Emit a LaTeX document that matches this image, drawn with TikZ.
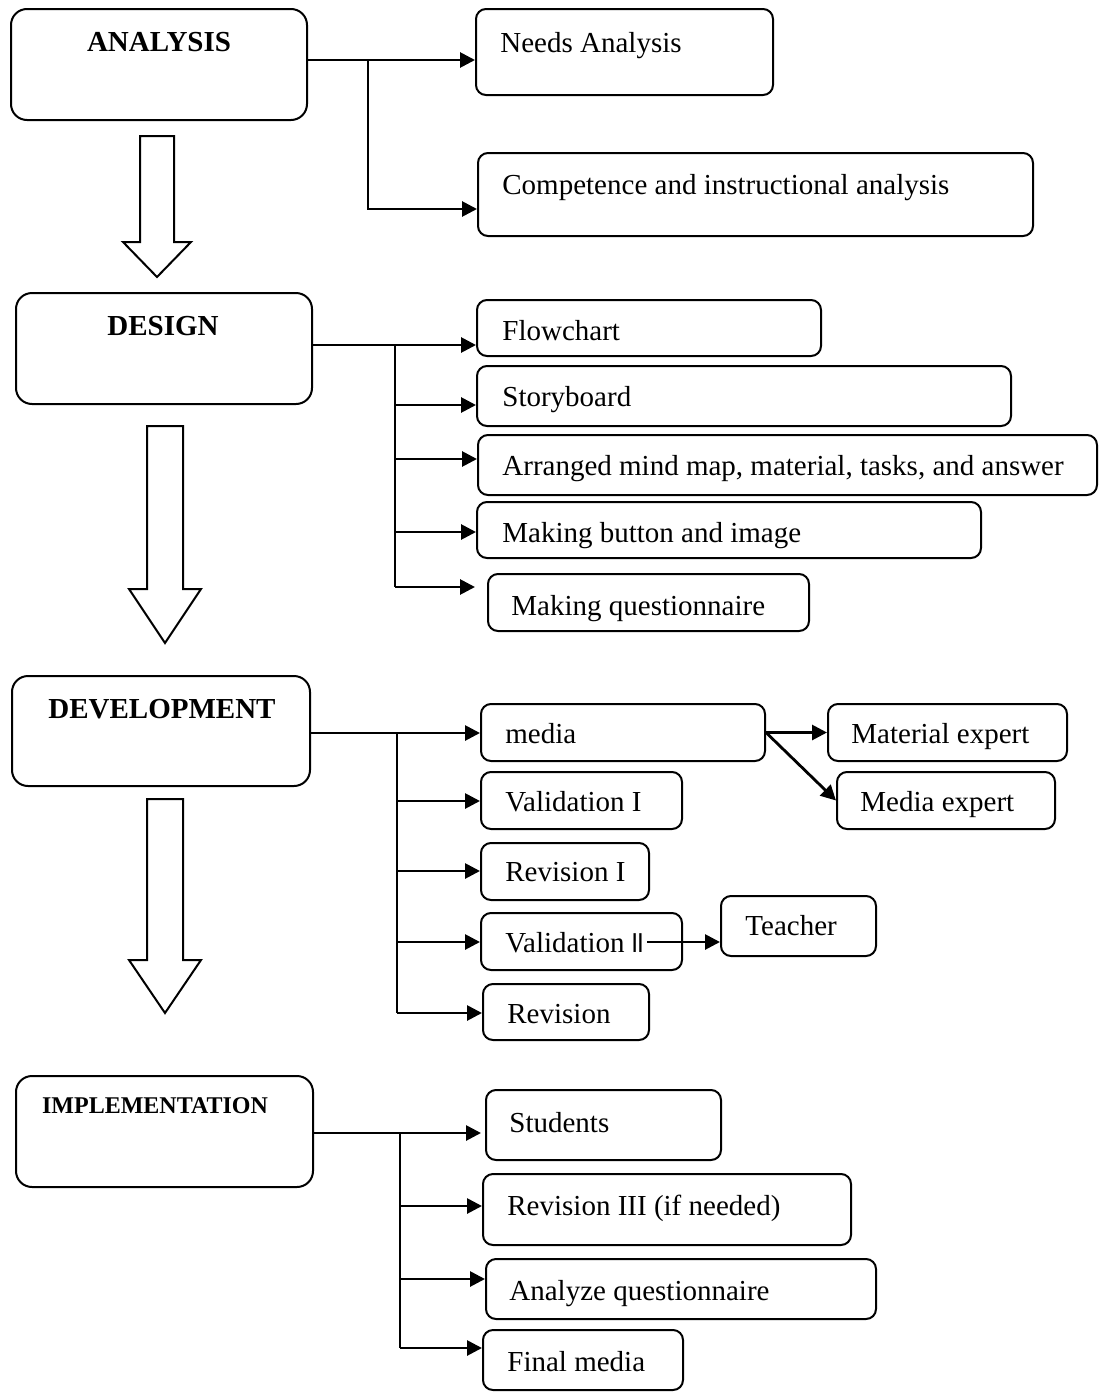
\documentclass[tikz,border=0pt]{standalone}
\usepackage{fontspec}
\setmainfont{Liberation Serif}
\newfontfamily\romsans{Liberation Sans}
\usetikzlibrary{arrows.meta,fit}
\begin{document}
\begin{tikzpicture}[x=0.5pt,y=-0.5pt,
  box/.style={draw, line width=1pt, rounded corners=5pt, inner sep=0pt},
  bigbox/.style={box, rounded corners=8pt},
  txt/.style={inner sep=0pt, anchor=base west, yshift=-5pt, font=\fontsize{14.5}{17}\selectfont},
  head/.style={inner sep=0pt, font=\fontsize{14.5}{17}\selectfont\bfseries},
  smallhead/.style={inner sep=0pt, font=\fontsize{12}{14}\selectfont\bfseries},
  link/.style={line width=1.4pt},
  arr/.style={link, -{Triangle[length=7.5pt,width=7.5pt]}},
  blockarrow/.style={draw, line width=1pt, fill=white, line join=miter}]
\useasboundingbox[fill=white] (0,0) rectangle (1098,1392);

% ---------- ANALYSIS ----------
\node[bigbox, fit={(11,9) (307,120)}] (an) {};
\node[head] (ant) at (159,42) {ANALYSIS};
\node[box, fit={(476,9) (773,95)}] (na) {};
\node[txt] (nat) at (500,42) {Needs Analysis};
\node[box, fit={(478,153) (1033,236)}] (ca) {};
\node[txt] (cat) at (502,184) {Competence and instructional analysis};
\coordinate (ja) at (368,60);
\coordinate (jb) at (368,209);
\draw[link] (an.east|-ja) -- (ja);
\draw[arr] (ja) -- (na.west|-ja);
\draw[arr] (ja) -- (jb) -- (ca.west|-jb);

\path[blockarrow] (140,136) -- (174,136) -- (174,242) -- (191,242) -- (157,277) -- (123,242) -- (140,242) -- cycle;

% ---------- DESIGN ----------
\node[bigbox, fit={(16,293) (312,404)}] (de) {};
\node[head] (det) at (163,326) {DESIGN};
\node[box, fit={(477,300) (821,356)}] (fc) {};
\node[txt] (fct) at (502,330) {Flowchart};
\node[box, fit={(477,366) (1011,426)}] (sb) {};
\node[txt] (sbt) at (502,396) {Storyboard};
\node[box, fit={(478,435) (1097,495)}] (am) {};
\node[txt] (amt) at (502,465) {Arranged mind map, material, tasks, and answer};
\node[box, fit={(477,502) (981,558)}] (mb) {};
\node[txt] (mbt) at (502,532) {Making button and image};
\node[box, fit={(488,574) (809,631)}] (mq) {};
\node[txt] (mqt) at (511,605) {Making questionnaire};
\coordinate (jd0) at (395,345);
\coordinate (jd1) at (395,405);
\coordinate (jd2) at (395,459);
\coordinate (jd3) at (395,532);
\coordinate (jd4) at (395,587);
\draw[link] (de.east|-jd0) -- (jd0) -- (jd4);
\draw[arr] (jd0) -- (fc.west|-jd0);
\draw[arr] (jd1) -- (sb.west|-jd1);
\draw[arr] (jd2) -- (am.west|-jd2);
\draw[arr] (jd3) -- (mb.west|-jd3);
\draw[arr, shorten >=6pt] (jd4) -- (mq.west|-jd4);

\path[blockarrow] (147,426) -- (183,426) -- (183,589) -- (201,589) -- (165,643) -- (129,589) -- (147,589) -- cycle;

% ---------- DEVELOPMENT ----------
\node[bigbox, fit={(12,676) (310,786)}] (dv) {};
\node[head] (dvt) at (162,709) {DEVELOPMENT};
\node[box, fit={(481,704) (765,761)}] (md) {};
\node[txt] (mdt) at (505,733) {media};
\node[box, fit={(828,704) (1067,761)}] (mx) {};
\node[txt] (mxt) at (851,733) {Material expert};
\node[box, fit={(837,772) (1055,829)}] (mex) {};
\node[txt] (mext) at (860,801) {Media expert};
\node[box, fit={(481,772) (682,829)}] (v1) {};
\node[txt] (v1t) at (505,801) {Validation I};
\node[box, fit={(481,843) (649,900)}] (r1) {};
\node[txt] (r1t) at (505,871) {Revision I};
\node[box, fit={(481,913) (682,970)}] (v2) {};
\node[txt] (v2t) at (505,942) {Validation {\romsans\fontsize{13}{15}\selectfont ll}};
\node[box, fit={(721,896) (876,956)}] (tc) {};
\node[txt] (tct) at (745,925) {Teacher};
\node[box, fit={(483,984) (649,1040)}] (rv) {};
\node[txt] (rvt) at (507,1013) {Revision};
\coordinate (jv0) at (397,733);
\coordinate (jv1) at (397,801);
\coordinate (jv2) at (397,871);
\coordinate (jv3) at (397,942);
\coordinate (jv4) at (397,1013);
\draw[link] (dv.east|-jv0) -- (jv0);
\draw[arr] (jv0) -- (md.west|-jv0);
\draw[link] (jv0) -- (jv4);
\draw[arr] (jv1) -- (v1.west|-jv1);
\draw[arr] (jv2) -- (r1.west|-jv2);
\draw[arr] (jv3) -- (v2.west|-jv3);
\draw[arr] (jv4) -- (rv.west|-jv4);
\coordinate (v2o) at (647,942);
\draw[arr] (v2o) -- (tc.west|-v2o);
\draw[arr] (md.east) -- (mx.west);
\draw[arr] (md.east) -- (mex.west);

\path[blockarrow] (147,799) -- (183,799) -- (183,960) -- (201,960) -- (165,1013) -- (129,960) -- (147,960) -- cycle;

% ---------- IMPLEMENTATION ----------
\node[bigbox, fit={(16,1076) (313,1187)}] (im) {};
\node[smallhead] (imt) at (155,1106) {IMPLEMENTATION};
\node[box, fit={(486,1090) (721,1160)}] (st) {};
\node[txt] (stt) at (509,1122) {Students};
\node[box, fit={(483,1174) (851,1245)}] (r3) {};
\node[txt] (r3t) at (507,1205) {Revision III (if needed)};
\node[box, fit={(486,1259) (876,1319)}] (aq) {};
\node[txt] (aqt) at (509,1290) {Analyze questionnaire};
\node[box, fit={(483,1330) (683,1390)}] (fm) {};
\node[txt] (fmt) at (507,1361) {Final media};
\coordinate (ji0) at (400,1133);
\coordinate (ji1) at (400,1206);
\coordinate (ji2) at (400,1279);
\coordinate (ji3) at (400,1348);
\draw[link] (im.east|-ji0) -- (ji0) -- (ji3);
\draw[arr, shorten >=2pt] (ji0) -- (st.west|-ji0);
\draw[arr] (ji1) -- (r3.west|-ji1);
\draw[arr] (ji2) -- (aq.west|-ji2);
\draw[arr] (ji3) -- (fm.west|-ji3);
\end{tikzpicture}
\end{document}
